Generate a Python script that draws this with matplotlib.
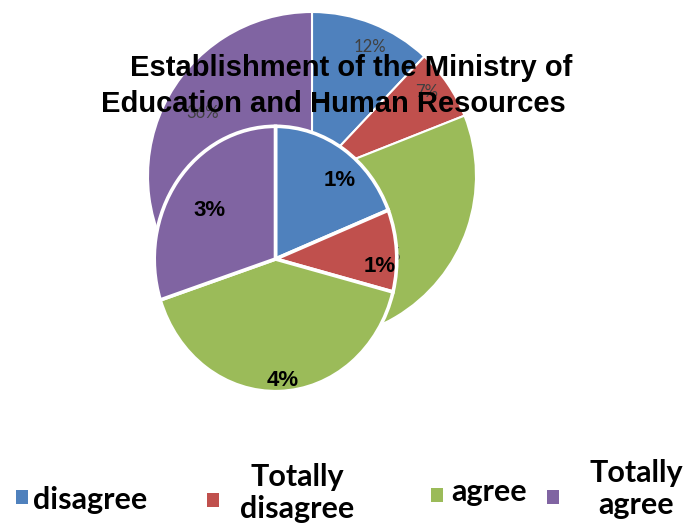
import matplotlib.pyplot as plt
from matplotlib.patches import Rectangle

# Survey answers, two rounds of the same question
categories = ['disagree', 'Totally\ndisagree', 'agree', 'Totally\nagree']
back_values = [12, 7, 45, 36]
front_values = [19, 10, 41, 30]
colors = ['#4F81BD', '#C0504D', '#9BBB59', '#8064A2']
title_lines = ['Establishment of the Ministry of', 'Education and Human Resources']

W, H = 683, 531
fig = plt.figure(figsize=(W / 100, H / 100), dpi=100)


def px_axes(x0, y0, x1, y1):
    # axes placed by pixel box, y measured from the top
    return fig.add_axes([x0 / W, 1 - y1 / H, (x1 - x0) / W, (y1 - y0) / H])


# back pie
ax_b = px_axes(148, 12, 476, 340)
wb, tb, ab = ax_b.pie(back_values, colors=colors, startangle=90, counterclock=False,
                      autopct='%d%%', pctdistance=0.84, frame=True,
                      wedgeprops=dict(edgecolor='white', linewidth=1.5),
                      textprops=dict(color='#404040', fontsize=12, family='Lato'))
ax_b.set_aspect('auto')
ax_b.set_xlim(-1, 1)
ax_b.set_ylim(-1, 1)
ax_b.axis('off')
# label spots inside each wedge (pixel coords)
back_label_px = [(370, 47), (427, 92), (385, 255), (203, 113)]
for t, (x, y) in zip(ab, back_label_px):
    t.set_position(((x - 312) / 164, -(y - 176) / 164))

# front pie
ax_f = px_axes(153, 125, 398, 393)
wf, tf = ax_f.pie(front_values, colors=colors, startangle=90, counterclock=False,
                  frame=True, wedgeprops=dict(edgecolor='white', linewidth=2.6))
ax_f.set_aspect('auto')
ax_f.set_xlim(-1.01, 1.01)
ax_f.set_ylim(-1.01, 1.01)
ax_f.axis('off')

# the front labels only show the leading digit squeezed against '%'
front_label_px = [(340, 181), (380, 266), (283, 381), (210, 210)]
for v, (x, y) in zip(front_values, front_label_px):
    fig.text(x / W, 1 - y / H, f'{str(v)[0]}%', ha='center', va='center',
             fontsize=16, fontweight='bold', family='Liberation Sans')

# title
fig.text(351 / W, 1 - 68 / H, title_lines[0], ha='center', va='center',
         fontsize=21, fontweight='bold', family='Liberation Sans')
fig.text(333 / W, 1 - 104 / H, title_lines[1], ha='center', va='center',
         fontsize=21, fontweight='bold', family='Liberation Sans')

# legend
box_px = [(16, 490), (207, 493), (431, 488), (547, 490)]
text_px = [(33, 500, 'left'), (297, 493, 'center'), (451, 492, 'left'), (636, 489, 'center')]
for c, lab, (bx, by), (tx, ty, ha) in zip(colors, categories, box_px, text_px):
    fig.patches.append(Rectangle((bx / W, 1 - (by + 14) / H), 12 / W, 14 / H,
                                 transform=fig.transFigure, facecolor=c, edgecolor='none'))
    fig.text(tx / W, 1 - ty / H, lab, ha=ha, va='center', multialignment='center',
             fontsize=22, fontweight='bold', family='Lato', linespacing=1.2)

fig.savefig('out.png', dpi=100, facecolor='white')
